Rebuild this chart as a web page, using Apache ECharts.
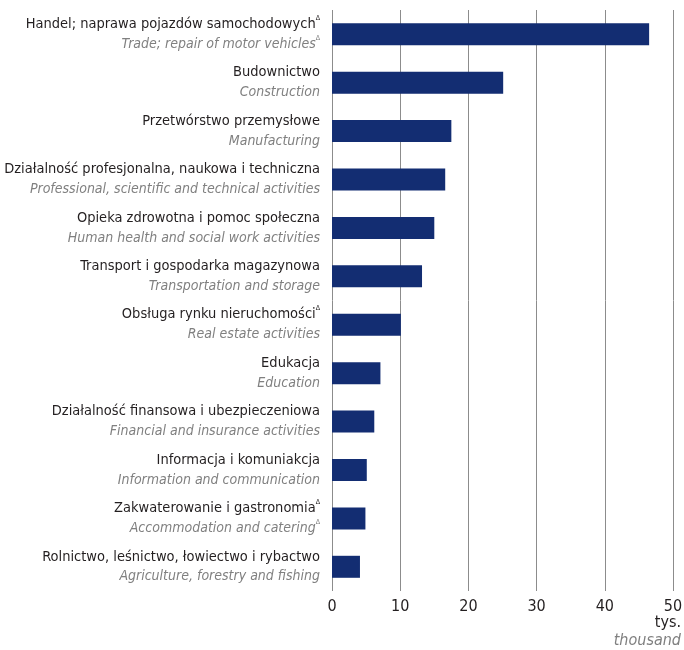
<!DOCTYPE html>
<html>
<head>
<meta charset="utf-8">
<script src="https://cdn.jsdelivr.net/npm/echarts@6/dist/echarts.min.js"></script>
<style>
    html, body { margin: 0; padding: 0; background: #fff; }
    #chart { width: 684px; height: 650px; }
</style>
</head>
<body>
<div id="chart"></div>
<script>
    // nazwy sekcji PKD (pl / en) i wartości w tys.
    let namesPl = [
        'Handel; naprawa pojazdów samochodowych',
        'Budownictwo',
        'Przetwórstwo przemysłowe',
        'Działalność profesjonalna, naukowa i techniczna',
        'Opieka zdrowotna i pomoc społeczna',
        'Transport i gospodarka magazynowa',
        'Obsługa rynku nieruchomości',
        'Edukacja',
        'Działalność finansowa i ubezpieczeniowa',
        'Informacja i komuniakcja',
        'Zakwaterowanie i gastronomia',
        'Rolnictwo, leśnictwo, łowiectwo i rybactwo'
    ];
    let namesEn = [
        'Trade; repair of motor vehicles',
        'Construction',
        'Manufacturing',
        'Professional, scientific and technical activities',
        'Human health and social work activities',
        'Transportation and storage',
        'Real estate activities',
        'Education',
        'Financial and insurance activities',
        'Information and communication',
        'Accommodation and catering',
        'Agriculture, forestry and fishing'
    ];
    let values = [46.5, 25.1, 17.5, 16.6, 15.0, 13.2, 10.1, 7.1, 6.2, 5.1, 4.9, 4.1];
    // Δ przy nazwie polskiej / angielskiej
    let deltaPl = [1, 0, 0, 0, 0, 0, 1, 0, 0, 0, 1, 0];
    let deltaEn = [1, 0, 0, 0, 0, 0, 0, 0, 0, 0, 1, 0];
    let xTicks = [0, 10, 20, 30, 40, 50];

    let font = '"Liberation Sans Narrow", "DejaVu Sans Condensed", "Roboto", sans-serif';
    let myChart = echarts.init(document.getElementById('chart'));

    let option = {
        animation: false,
        textStyle: { fontFamily: font },
        grid: { left: 332, right: 11, top: 10, bottom: 59, containLabel: false, outerBoundsMode: 'none' },
        xAxis: {
            type: 'value',
            min: xTicks[0],
            max: xTicks[xTicks.length - 1],
            interval: 10,
            axisLine: { show: false },
            axisTick: { show: false },
            splitLine: { show: true, lineStyle: { color: '#8c8c8c', width: 1 } },
            axisLabel: { color: '#231f20', fontSize: 16, margin: 8, fontFamily: font }
        },
        yAxis: {
            type: 'category',
            inverse: true,
            data: namesPl,
            axisLine: { show: false },
            axisTick: { show: false },
            axisLabel: {
                margin: 12,
                align: 'right',
                formatter: function (value, idx) {
                    let s = '{pl|' + namesPl[idx] + '}';
                    if (deltaPl[idx]) s += '{sup|Δ}';
                    s += '\n{en|' + namesEn[idx] + '}';
                    if (deltaEn[idx]) s += '{supg|Δ}';
                    return s;
                },
                rich: {
                    pl: { fontSize: 14.5, color: '#231f20', lineHeight: 20, fontFamily: font },
                    en: { fontSize: 14, color: '#808080', fontStyle: 'italic', lineHeight: 20, fontFamily: font },
                    sup: { fontSize: 7, color: '#231f20', verticalAlign: 'top', lineHeight: 20, fontFamily: font },
                    supg: { fontSize: 7, color: '#808080', verticalAlign: 'top', lineHeight: 20, fontFamily: font }
                }
            }
        },
        graphic: [
            {
                type: 'text', right: 3, top: 615,
                style: { text: 'tys.', fill: '#231f20', font: '16px ' + font, align: 'right' }
            },
            {
                type: 'text', right: 3, top: 633,
                style: { text: 'thousand', fill: '#808080', font: 'italic 16px ' + font, align: 'right' }
            }
        ],
        series: [{
            type: 'bar',
            data: values,
            barWidth: 22,
            itemStyle: { color: '#132d72' }
        }]
    };
    myChart.setOption(option);
</script>
</body>
</html>
